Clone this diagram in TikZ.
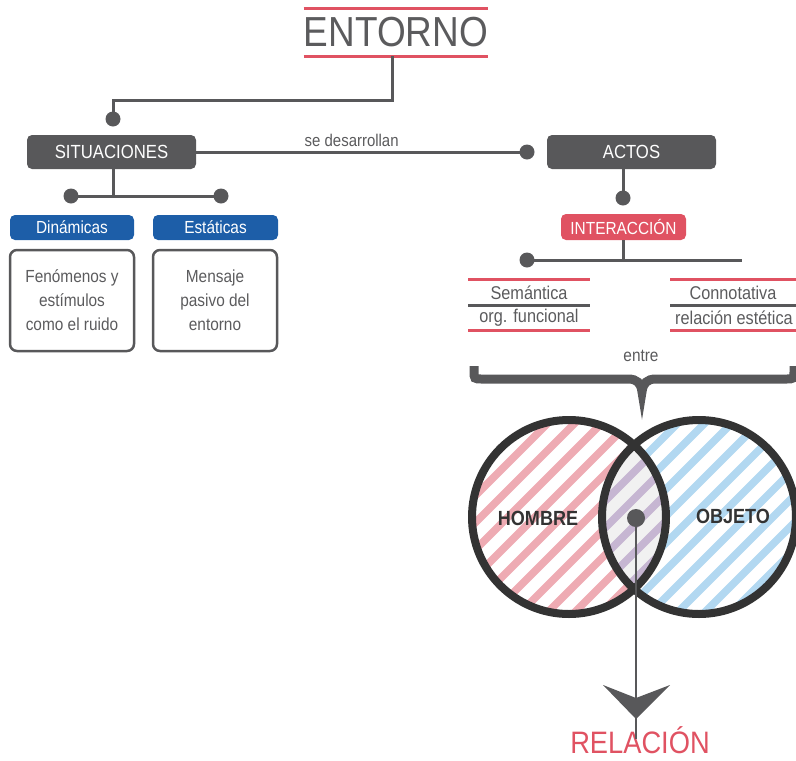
\documentclass[tikz,border=0pt]{standalone}
\usepackage{fontspec}
\setmainfont{Liberation Sans}[FakeStretch=0.88]
\definecolor{boxgray}{HTML}{58585A}
\definecolor{txtgray}{HTML}{5B5B5D}
\definecolor{redmark}{HTML}{E05262}
\definecolor{bluemark}{HTML}{1D5EA8}
\definecolor{pinkstripe}{HTML}{EEABB3}
\definecolor{bluestripe}{HTML}{B2D8F1}
\definecolor{purplestripe}{HTML}{C6B6D2}
\definecolor{interfill}{HTML}{F1F1F1}
\definecolor{ringgray}{HTML}{333333}
\tikzset{
  conn/.style={draw=boxgray, line width=3pt},
  darkbox/.style={fill=boxgray, rounded corners=5pt, text=white, inner sep=0pt,
    minimum width=169pt, minimum height=34pt, font=\fontsize{19}{22}\selectfont},
  bluebox/.style={fill=bluemark, rounded corners=5pt, text=white, inner sep=0pt,
    minimum width=124pt, minimum height=25pt, font=\fontsize{17.5}{20}\selectfont},
  textbox/.style={draw=boxgray, line width=2.5pt, rounded corners=7pt, text=txtgray,
    inner sep=0pt, minimum width=124pt, minimum height=101pt, align=center,
    font=\fontsize{17.5}{24}\selectfont},
  plain/.style={text=txtgray, inner sep=0pt, font=\fontsize{18.5}{22}\selectfont},
  redrule/.style={draw=redmark, line width=3pt},
  grayrule/.style={draw=boxgray, line width=3pt},
  stripe/.style={line width=7.5pt},
  ring/.style={draw=ringgray, line width=8pt},
  ringlabel/.style={text=ringgray, inner sep=0pt, font=\fontsize{20.5}{24}\selectfont\bfseries},
}
\begin{document}
\begin{tikzpicture}[x=1pt,y=-1pt]
\useasboundingbox (0,0) rectangle (796,761);

% title
\node[text=txtgray, inner sep=0pt, minimum width=184pt, minimum height=47pt,
  font=\fontsize{42}{48}\selectfont] (entorno) at (396,32.5) {ENTORNO};
\draw[redrule] (entorno.north west) -- (entorno.north east);
\draw[redrule] (entorno.south west) -- (entorno.south east);

% left branch
\node[darkbox] (situaciones) at (111.5,152) {SITUACIONES};
\node[bluebox] (dinamicas) at (72,227.5) {Dinámicas};
\node[bluebox, minimum width=125pt] (estaticas) at (215.5,227.5) {Estáticas};
\node[textbox] (fenomenos) at (72,300.5) {Fenómenos y\\estímulos\\como el ruido};
\node[textbox] (mensaje) at (215,300.5) {Mensaje\\pasivo del\\entorno};

% right branch
\node[darkbox] (actos) at (631.5,152) {ACTOS};
\node[fill=redmark, rounded corners=5pt, text=white, inner sep=0pt, minimum width=125pt,
  minimum height=26pt, font=\fontsize{17.5}{20}\selectfont] (interaccion) at (623.5,227) {INTERACCIÓN};

\coordinate (d1) at (113,119);
\coordinate (d2) at (527,152);
\coordinate (d3) at (623,198);
\coordinate (d4) at (527,260);
\coordinate (d5) at (71,196);
\coordinate (d6) at (221,196);
\coordinate (d4end) at (742,260);

\draw[conn] ([xshift=-4pt]entorno.south) -- ++(0,44) -| (d1);
\draw[conn] (situaciones.east) -- node[pos=0.47, above=1pt, text=txtgray,
  font=\fontsize{17}{20}\selectfont] (sedes) {se desarrollan} (d2);
\draw[conn] (situaciones.south -| d1) -- (d5 -| d1);
\draw[conn] (d5) -- (d6);
\draw[conn] (actos.south -| d3) -- (d3);
\draw[conn] (interaccion.south -| d3) -- (d4 -| d3);
\draw[conn] (d4) -- (d4end);
\foreach \d in {d1,d2,d3,d4,d5,d6}{
  \fill[boxgray] (\d) circle (7.5);
}

% semantica / connotativa
\node[plain] (semantica) at (529,293) {Semántica};
\node[plain] (orgfun) at (529,318) {org. funcional};
\node[plain] (connotativa) at (733,293) {Connotativa};
\node[plain] (estetica) at (734,318) {relación estética};
\foreach \xa/\xb in {468/590,670/796}{
  \draw[redrule] (\xa,279) -- (\xb,279);
  \draw[grayrule] (\xa,305) -- (\xb,305);
  \draw[redrule] (\xa,330) -- (\xb,330);
}
\node[plain, font=\fontsize{17.5}{20}\selectfont] (entre) at (641,356) {entre};

% brace
\draw[draw=boxgray, line width=9pt] (474,366) -- (474,371) .. controls (474,379) .. (482,379)
  -- (628,379) .. controls (637,379) and (641,383) .. (642,392)
  .. controls (643,383) and (647,379) .. (656,379) -- (786,379)
  .. controls (794,379) .. (794,371) -- (794,366);

% venn
\coordinate (hc) at (569,517);
\coordinate (oc) at (699,517);
\begin{scope}
  \clip (hc) circle (97);
  \foreach \a in {400,427,...,780}{
    \draw[stripe, pinkstripe] (\a-150,667) -- ++(300,-300);
  }
\end{scope}
\begin{scope}
  \clip (oc) circle (97);
  \foreach \a in {530,557,...,910}{
    \draw[stripe, bluestripe] (\a-150,667) -- ++(300,-300);
  }
\end{scope}
\begin{scope}
  \clip (hc) circle (97);
  \clip (oc) circle (97);
  \fill[interfill] (500,400) rectangle (760,640);
  \foreach \a in {400,427,...,780}{
    \draw[stripe, purplestripe] (\a-150,667) -- ++(300,-300);
  }
\end{scope}
\draw[ring] (hc) circle (97);
\draw[ring] (oc) circle (97);
\node[ringlabel] (hombre) at (538,518) {HOMBRE};
\node[ringlabel] (objeto) at (733,516) {OBJETO};

% relacion
\coordinate (rd) at (636,518);
\node[text=redmark, inner sep=0pt, anchor=base, font=\fontsize{31}{36}\selectfont] (relacion) at (640,753) {RELACIÓN};
\coordinate (tip) at (636,719);
\draw[draw=boxgray, line width=2.5pt] (rd) -- ([yshift=-20pt]tip);
\fill[boxgray] (603,685) -- (tip) -- (670,685) -- (636,698) -- cycle;
\fill[boxgray] (rd) circle (9);
\end{tikzpicture}
\end{document}
